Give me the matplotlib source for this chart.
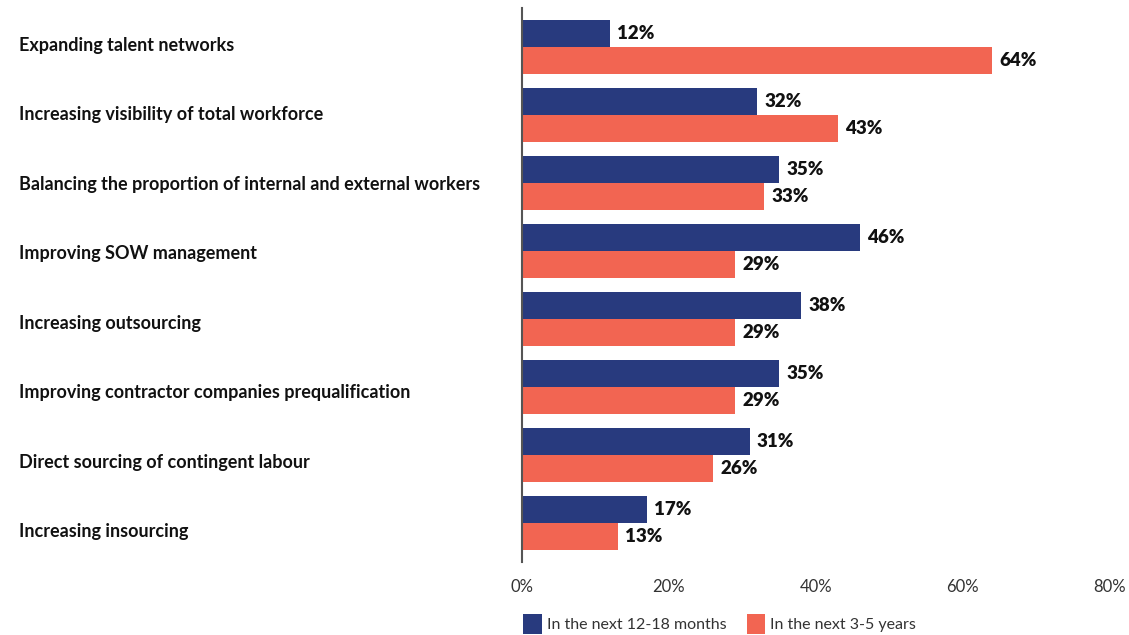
import matplotlib.pyplot as plt
import matplotlib.transforms as mtransforms
import numpy as np

plt.rcParams['font.family'] = ['Lato', 'DejaVu Sans']

categories = [
    'Expanding talent networks',
    'Increasing visibility of total workforce',
    'Balancing the proportion of internal and external workers',
    'Improving SOW management',
    'Increasing outsourcing',
    'Improving contractor companies prequalification',
    'Direct sourcing of contingent labour',
    'Increasing insourcing',
]
near_term = [12, 32, 35, 46, 38, 35, 31, 17]
long_term = [64, 43, 33, 29, 29, 29, 26, 13]
series_names = ['In the next 12-18 months', 'In the next 3-5 years']
xticks = [0, 20, 40, 60, 80]

NAVY = '#283a7e'
CORAL = '#f26552'

fig = plt.figure(figsize=(11.29, 6.35), dpi=100)
ax = fig.add_axes([0.4624, 0.115, 0.5206, 0.872])

y = np.arange(len(categories))
h = 0.397
b1 = ax.barh(y - h / 2, near_term, height=h, color=NAVY, label=series_names[0])
b2 = ax.barh(y + h / 2, long_term, height=h, color=CORAL, label=series_names[1])

# value labels just past the end of each bar
for bars, vals in ((b1, near_term), (b2, long_term)):
    for bar, v in zip(bars, vals):
        ax.annotate(f'{v}%', (v, bar.get_y() + bar.get_height() / 2),
                    xytext=(5, 0), textcoords='offset points',
                    va='center', ha='left', fontsize=13.5, fontweight='heavy',
                    color='#111111')

ax.set_ylim(len(categories) - 1 + 0.574, -0.574)
ax.set_xlim(0, 80)
ax.set_xticks(xticks)
ax.set_xticklabels([f'{t}%' for t in xticks], fontsize=12, color='#333333')
ax.tick_params(axis='x', length=0, pad=12)
ax.set_yticks([])

for s in ('top', 'right', 'bottom'):
    ax.spines[s].set_visible(False)
ax.spines['left'].set_color('#555555')
ax.spines['left'].set_linewidth(1.5)

# category names left-aligned at the figure's left edge, spaced a touch wider
trans = mtransforms.blended_transform_factory(fig.transFigure, ax.transData)
for yi, cat in zip(y, categories):
    ax.text(19 / 1129, yi * 1.023 - 0.03, cat, transform=trans, fontsize=13,
            fontweight='bold', color='#111111', va='center', ha='left')

fig.legend(handles=[b1, b2], labels=series_names, loc='center left',
           bbox_to_anchor=(517 / 1129, 1 - 624 / 635), ncol=2, frameon=False,
           fontsize=11.5, handlelength=1.15, handleheight=1.6, handletextpad=0.3,
           columnspacing=1.3, labelcolor='#333333', borderaxespad=0)

fig.savefig('out.png', dpi=100)
